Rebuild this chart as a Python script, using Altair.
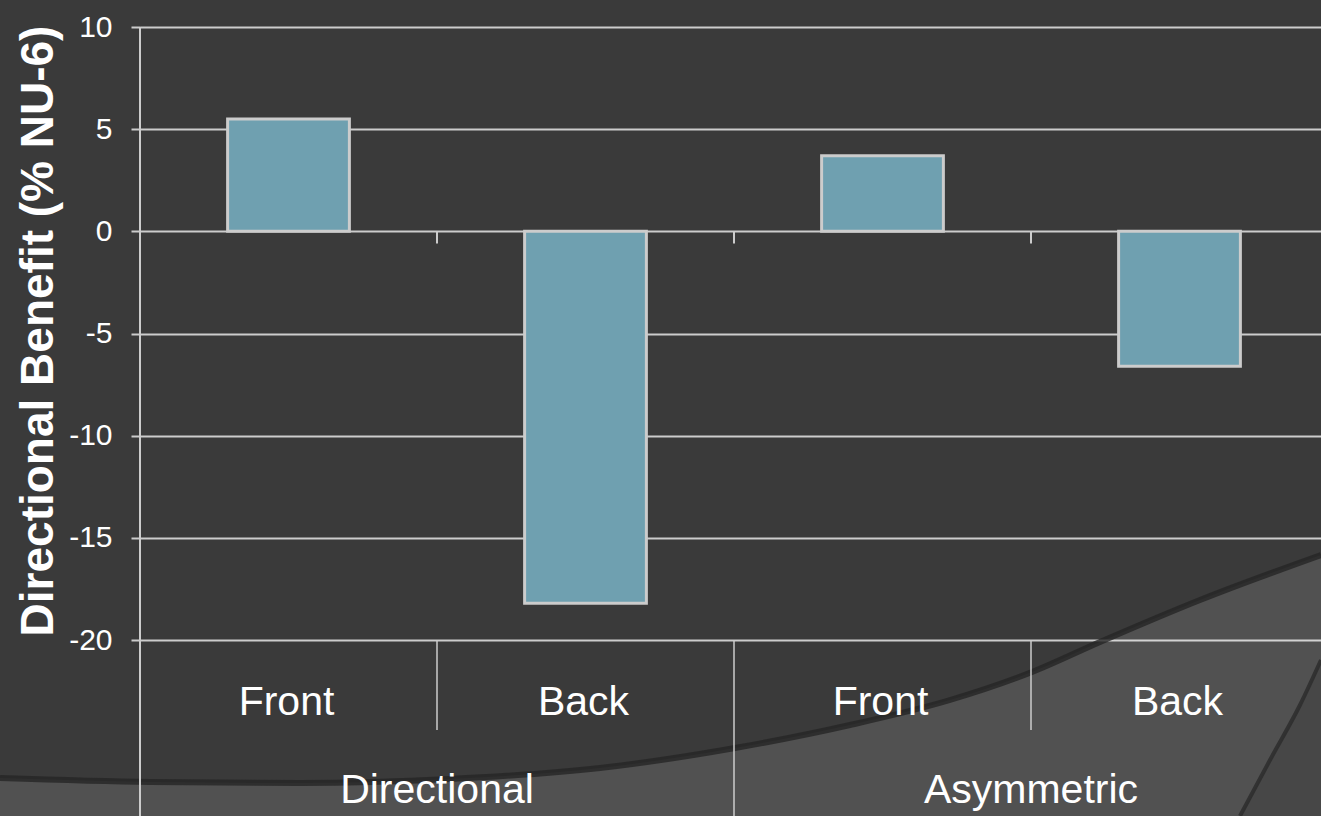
import altair as alt
import pandas as pd

# ---- data ----
groups = ["Directional", "Directional", "Asymmetric", "Asymmetric"]
conditions = ["Front", "Back", "Front", "Back"]
benefit = [5.5, -18.2, 3.7, -6.6]
y_ticks = [-20, -15, -10, -5, 0, 5, 10]

# decorative background swoosh outline (page pixels)
swoosh_x = [0, 150, 300, 450, 600, 735, 850, 950, 1032, 1100, 1200, 1321]
swoosh_y = [778, 782, 783, 779, 768, 748, 725, 700, 672, 642, 600, 555]
corner_x = [1240, 1270, 1300, 1321]
corner_y = [816, 760, 705, 660]

keys = [f"{g}|{c}" for g, c in zip(groups, conditions)]
df = pd.DataFrame({"key": keys, "group": groups, "cond": conditions, "value": benefit,
                   "idx": list(range(len(keys)))})

FONT = "Liberation Sans"
GRID = "#cccccc"
W, H = 1181, 613

xscale = alt.Scale(domain=keys, range=[0, 1188], paddingInner=0, paddingOuter=0)
yscale = alt.Scale(domain=[-20, 10], nice=False)

xenc = alt.X("key:N", scale=xscale, axis=None, sort=keys)
xedge = alt.X("key:N", scale=xscale, axis=None, sort=keys, bandPosition=0)

base = alt.Chart(df)

bars = base.mark_bar(width=alt.RelativeBandSize(0.41), fill="#6fa0b0",
                     stroke="#cccccc", strokeWidth=3).encode(
    x=xenc,
    y=alt.Y("value:Q", scale=yscale,
            axis=alt.Axis(values=y_ticks, grid=True, gridColor=GRID, gridWidth=2,
                          domain=False, tickColor=GRID, tickSize=9, tickWidth=2,
                          labelColor="white", labelFontSize=30, labelFont=FONT,
                          labelPadding=19, labelExpr="'' + datum.value",
                          title="Directional Benefit (% NU-6)", titleFontSize=46,
                          titleFont=FONT, titleFontWeight="bold", titleColor="white",
                          titleAngle=-90, titleX=-88, titleY=H / 2 - 3, titleAlign="center",
                          titleBaseline="alphabetic")),
    y2=alt.datum(0),
)

zero_ticks = base.transform_filter("datum.idx > 0").mark_rule(
    color=GRID, strokeWidth=2).encode(
    x=xedge, y=alt.datum(0, scale=yscale), y2=alt.datum(-0.6))

cat_seps = base.transform_filter("datum.idx % 2 == 1").mark_rule(
    color=GRID, strokeWidth=1.5).encode(
    x=xedge, y=alt.value(H), y2=alt.value(H + 90))

grp_seps = base.transform_filter("datum.idx == 2").mark_rule(
    color=GRID, strokeWidth=1.5).encode(
    x=xedge, y=alt.value(H), y2=alt.value(816 - 27))

y_line = base.transform_filter("datum.idx == 0").mark_rule(
    color=GRID, strokeWidth=2).encode(
    x=alt.value(0), y=alt.value(0), y2=alt.value(816 - 27))

cat_labels = base.mark_text(fontSize=41, font=FONT, color="white", dx=-2,
                            baseline="alphabetic", align="center").encode(
    x=xenc, y=alt.value(715 - 27), text="cond:N")

grp_labels = base.transform_filter("datum.idx % 2 == 1").mark_text(
    fontSize=41, font=FONT, color="white", baseline="alphabetic", align="center").encode(
    x=xedge, y=alt.value(803 - 27), text="group:N")

main = alt.layer(bars, zero_ticks, cat_seps, grp_seps, y_line, cat_labels, grp_labels)

# decorative background shapes
sw = pd.DataFrame({"sx": swoosh_x, "sy": swoosh_y})
sw["sb"] = 816
co = pd.DataFrame({"sx": corner_x, "sy": corner_y})
co["sb"] = 816
dx = alt.Scale(domain=[0, 1321], range=[-140, 1181], nice=False, zero=False)
dy = alt.Scale(domain=[0, 816], range=[-27, 789], nice=False, zero=False)

deco_area = alt.Chart(sw).mark_area(fill="white", opacity=0.12, interpolate="monotone").encode(
    x=alt.X("sx:Q", scale=dx, axis=None),
    y=alt.Y("sy:Q", scale=dy, axis=None),
    y2="sb:Q")
deco_corner = alt.Chart(co).mark_area(fill="black", opacity=0.12, interpolate="monotone").encode(
    x=alt.X("sx:Q", scale=dx, axis=None),
    y=alt.Y("sy:Q", scale=dy, axis=None),
    y2="sb:Q")
deco_edge = alt.Chart(sw).mark_line(color="#262626", strokeWidth=6, opacity=0.8,
                                    interpolate="monotone").encode(
    x=alt.X("sx:Q", scale=dx, axis=None),
    y=alt.Y("sy:Q", scale=dy, axis=None))
corner_edge = alt.Chart(co).mark_line(color="#2a2a2a", strokeWidth=4, opacity=0.8,
                                      interpolate="monotone").encode(
    x=alt.X("sx:Q", scale=dx, axis=None),
    y=alt.Y("sy:Q", scale=dy, axis=None))

chart = alt.layer(deco_area, deco_corner, deco_edge, corner_edge, main).resolve_scale(
    x="independent", y="independent"
).properties(
    width=W, height=H,
    padding={"left": 140, "top": 27, "right": 0, "bottom": 176},
    autosize="none",
    background="#3a3a3a",
).configure_view(stroke=None)

chart.save("out.html", embed_options={"renderer": "svg", "actions": False})
